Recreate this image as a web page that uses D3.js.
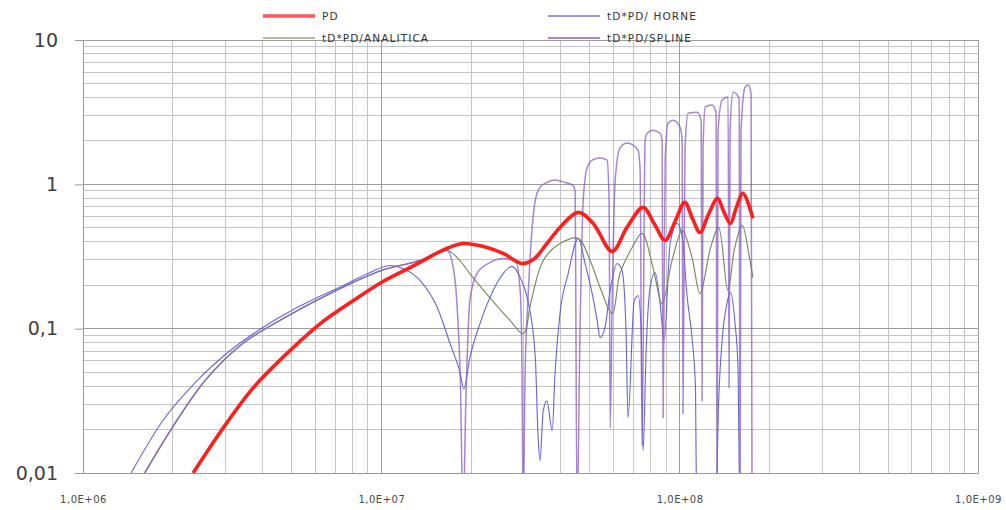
<!DOCTYPE html>
<html>
<head>
<meta charset="utf-8">
<script src="https://cdn.jsdelivr.net/npm/d3@7"></script>
<style>
  body { margin: 0; background: #fff; }
  svg { display: block; }
</style>
</head>
<body>
<svg id="chart" width="1006" height="510"></svg>
<script>
// Axis ticks and labels
const xTickValues = [1e6, 1e7, 1e8, 1e9];
const xTickLabels = ["1,0E+06", "1,0E+07", "1,0E+08", "1,0E+09"];
const yTickValues = [0.01, 0.1, 1, 10];
const yTickLabels = ["0,01", "0,1", "1", "10"];

const seriesNames = ["PD", "tD*PD/ HORNE", "tD*PD/ANALITICA", "tD*PD/SPLINE"];

// PD
const pdTime = [2.34e6, 2.95e6, 3.72e6, 5.06e6, 6.23e6, 8.04e6, 1.00e7, 1.28e7, 1.61e7, 1.88e7,
  2.26e7, 2.56e7, 2.96e7, 3.23e7, 3.59e7, 3.97e7, 4.57e7, 5.13e7, 5.94e7, 6.66e7,
  7.54e7, 8.21e7, 8.94e7, 9.65e7, 1.04e8, 1.10e8, 1.17e8, 1.245e8, 1.34e8, 1.40e8,
  1.48e8, 1.545e8, 1.63e8, 1.76e8];
const pdValue = [0.0100, 0.0205, 0.0389, 0.0738, 0.108, 0.156, 0.209, 0.272, 0.350, 0.389,
  0.365, 0.332, 0.283, 0.301, 0.389, 0.503, 0.639, 0.536, 0.343, 0.503,
  0.692, 0.536, 0.409, 0.553, 0.750, 0.590, 0.464, 0.610, 0.800, 0.660,
  0.536, 0.681, 0.866, 0.581];

// tD*PD/ HORNE
const horneTime = [1.45e6, 1.85e6, 2.41e6, 3.11e6, 4.01e6, 5.22e6, 7.67e6, 9.17e6, 1.07e7, 1.18e7,
  1.35e7, 1.54e7, 1.70e7, 1.84e7, 1.89e7, 1.98e7, 2.14e7, 2.37e7, 2.56e7, 2.74e7,
  2.92e7, 3.10e7, 3.28e7, 3.35e7, 3.40e7, 3.49e7, 3.59e7, 3.74e7, 3.82e7, 3.97e7,
  4.23e7, 4.57e7, 4.82e7, 5.09e7, 5.29e7, 5.41e7, 5.62e7, 5.85e7, 6.17e7, 6.41e7,
  6.61e7, 6.71e7, 7.04e7, 7.26e7, 7.43e7, 7.54e7, 7.72e7, 7.96e7, 8.27e7, 8.60e7,
  8.87e7, 9.29e7, 9.80e7, 1.02e8, 1.06e8, 1.10e8, 1.13e8, 1.14e8, 1.24e8, 1.32e8,
  1.35e8, 1.39e8, 1.44e8, 1.48e8, 1.53e8, 1.57e8, 1.59e8];
const horneValue = [0.0100, 0.0230, 0.0435, 0.0703, 0.102, 0.140, 0.205, 0.245, 0.274, 0.261,
  0.215, 0.140, 0.0787, 0.0487, 0.0383, 0.0629, 0.108, 0.184, 0.241, 0.270,
  0.226, 0.156, 0.0649, 0.0187, 0.0121, 0.0270, 0.0316, 0.0196, 0.0487, 0.127,
  0.241, 0.422, 0.283, 0.175, 0.114, 0.0866, 0.102, 0.184, 0.283, 0.253,
  0.0968, 0.0241, 0.156, 0.169, 0.0968, 0.0142, 0.0703, 0.193, 0.245, 0.149,
  0.0825, 0.389, 0.536, 0.429, 0.164, 0.0866, 0.0389, 0.005, 0.003, 0.005,
  0.0301, 0.0866, 0.149, 0.178, 0.114, 0.0511, 0.005];

// tD*PD/ANALITICA
const analiticaTime = [1.61e6, 1.96e6, 2.56e6, 3.36e6, 4.57e6, 6.73e6, 1.00e7, 1.35e7, 1.66e7, 1.81e7,
  1.98e7, 2.31e7, 2.70e7, 2.99e7, 3.18e7, 3.49e7, 3.97e7, 4.57e7, 5.01e7, 5.41e7,
  5.94e7, 6.31e7, 6.93e7, 7.48e7, 8.14e7, 8.73e7, 9.43e7, 1.02e8, 1.10e8, 1.17e8,
  1.27e8, 1.35e8, 1.45e8, 1.53e8, 1.62e8, 1.72e8, 1.76e8];
const analiticaValue = [0.0100, 0.0196, 0.0435, 0.0762, 0.114, 0.175, 0.253, 0.297, 0.348, 0.306,
  0.241, 0.164, 0.114, 0.0923, 0.156, 0.297, 0.389, 0.422, 0.297, 0.193,
  0.127, 0.241, 0.365, 0.457, 0.265, 0.149, 0.297, 0.480, 0.311, 0.175,
  0.365, 0.503, 0.184, 0.365, 0.519, 0.297, 0.226];

// tD*PD/SPLINE
const splineTime = [1.61e6, 1.96e6, 2.56e6, 3.36e6, 4.57e6, 6.73e6, 1.00e7, 1.35e7, 1.66e7, 1.73e7,
  1.79e7, 1.84e7, 1.88e7, 1.92e7, 1.98e7, 2.09e7, 2.31e7, 2.56e7, 2.81e7, 2.92e7,
  2.96e7, 2.99e7, 3.03e7, 3.10e7, 3.18e7, 3.28e7, 3.40e7, 3.59e7, 3.82e7, 4.13e7,
  4.39e7, 4.46e7, 4.53e7, 4.64e7, 4.75e7, 4.89e7, 5.09e7, 5.41e7, 5.71e7, 5.80e7,
  5.85e7, 5.94e7, 6.08e7, 6.31e7, 6.66e7, 6.98e7, 7.26e7, 7.37e7, 7.48e7, 7.66e7,
  7.78e7, 8.14e7, 8.60e7, 8.73e7, 8.80e7, 8.94e7, 9.14e7, 9.50e7, 1.003e8, 1.019e8,
  1.026e8, 1.042e8, 1.067e8, 1.144e8, 1.180e8, 1.189e8, 1.198e8, 1.217e8, 1.284e8, 1.324e8,
  1.335e8, 1.345e8, 1.387e8, 1.453e8, 1.464e8, 1.476e8, 1.510e8, 1.582e8, 1.594e8, 1.606e8,
  1.657e8, 1.696e8, 1.735e8, 1.749e8];
const splineValue = [0.0100, 0.0196, 0.0435, 0.0762, 0.114, 0.175, 0.253, 0.297, 0.348, 0.287,
  0.156, 0.0435, 0.005, 0.0316, 0.156, 0.241, 0.287, 0.306, 0.301, 0.184,
  0.060, 0.005, 0.0435, 0.156, 0.409, 0.774, 0.953, 1.03, 1.07, 1.03,
  0.984, 0.909, 0.005, 0.114, 0.774, 1.29, 1.47, 1.52, 1.47, 0.774,
  0.0205, 0.156, 1.07, 1.78, 1.93, 1.87, 1.72, 1.25, 0.0154, 2.02,
  2.26, 2.37, 2.26, 2.02, 0.0241, 1.47, 2.65, 2.78, 2.49, 2.02,
  0.0257, 1.72, 3.11, 3.16, 2.78, 0.0316, 1.72, 3.43, 3.54, 3.16,
  0.005, 2.37, 3.83, 4.02, 0.0389, 2.37, 4.35, 3.96, 0.005, 2.37,
  4.72, 4.87, 4.28, 0.005];

const svg = d3.select("#chart");
const plot = { left: 83, right: 978, top: 40, bottom: 473 };

const x = d3.scaleLog().domain([1e6, 1e9]).range([plot.left, plot.right]);
const y = d3.scaleLog().domain([0.01, 10]).range([plot.bottom, plot.top]);

const isDecade = d => Math.abs(Math.log10(d) - Math.round(Math.log10(d))) < 1e-9;

// Log grid: minor lines first, decade lines over them
const grid = svg.append("g").attr("shape-rendering", "crispEdges");
const xGrid = x.ticks();
const yGrid = y.ticks();
[false, true].forEach(major => {
  grid.selectAll(null).data(xGrid.filter(d => isDecade(d) === major)).enter().append("line")
    .attr("x1", d => x(d)).attr("x2", d => x(d))
    .attr("y1", plot.top).attr("y2", plot.bottom)
    .attr("stroke", major ? "#9c9c9c" : "#c4c4c4").attr("stroke-width", 1);
  grid.selectAll(null).data(yGrid.filter(d => isDecade(d) === major)).enter().append("line")
    .attr("x1", plot.left).attr("x2", plot.right)
    .attr("y1", d => y(d)).attr("y2", d => y(d))
    .attr("stroke", major ? "#9c9c9c" : "#c4c4c4").attr("stroke-width", 1);
});

// Axes
const yAxis = svg.append("g")
  .attr("transform", `translate(${plot.left},0)`)
  .call(d3.axisLeft(y).tickValues(yTickValues)
    .tickFormat((d, i) => yTickLabels[i]).tickSize(8).tickPadding(17));
yAxis.select(".domain").attr("stroke", "#999");
yAxis.selectAll(".tick line").attr("stroke", "#999");
yAxis.selectAll("text")
  .attr("fill", "#404040")
  .style("font-family", "'DejaVu Sans', sans-serif")
  .style("font-size", "19px");

const xAxis = svg.append("g")
  .attr("transform", `translate(0,${plot.bottom})`)
  .call(d3.axisBottom(x).tickValues(xTickValues)
    .tickFormat((d, i) => xTickLabels[i]).tickSize(0).tickPadding(23));
xAxis.select(".domain").attr("stroke", "#999");
xAxis.selectAll("text")
  .attr("fill", "#4a4a4a")
  .style("font-family", "'DejaVu Sans', sans-serif")
  .style("font-size", "10px")
  .style("letter-spacing", "0.5px");

// Series
svg.append("clipPath").attr("id", "plot-clip")
  .append("rect")
  .attr("x", plot.left).attr("y", plot.top)
  .attr("width", plot.right - plot.left).attr("height", plot.bottom - plot.top);

const pairs = (ts, vs) => ts.map((t, i) => ({ t, v: vs[i] }));

const series = [
  { name: seriesNames[1], data: pairs(horneTime, horneValue), color: "#4a4ad8", width: 1.1, opacity: 0.85, curve: d3.curveMonotoneX },
  { name: seriesNames[2], data: pairs(analiticaTime, analiticaValue), color: "#76865a", width: 1.2, opacity: 0.95, curve: d3.curveCatmullRom.alpha(0.5) },
  { name: seriesNames[3], data: pairs(splineTime, splineValue), color: "#8a5cc0", width: 1.5, opacity: 0.75, curve: d3.curveMonotoneX },
  { name: seriesNames[0], data: pairs(pdTime, pdValue), color: "#ff1e1e", width: 3.6, opacity: 1, curve: d3.curveCatmullRom.alpha(0.5) }
];

const lines = svg.append("g").attr("clip-path", "url(#plot-clip)");
series.forEach(s => {
  lines.append("path")
    .datum(s.data)
    .attr("fill", "none")
    .attr("stroke", s.color)
    .attr("stroke-width", s.width)
    .attr("stroke-opacity", s.opacity)
    .attr("stroke-linejoin", "round")
    .attr("d", d3.line().curve(s.curve).x(d => x(d.t)).y(d => y(d.v)));
});

// Legend: two columns, two rows
const legendItems = [
  { name: seriesNames[0], color: "#ff1e1e", width: 3.6, col: 0, row: 0 },
  { name: seriesNames[1], color: "#4a4ad8", width: 1.5, col: 1, row: 0 },
  { name: seriesNames[2], color: "#76865a", width: 1.5, col: 0, row: 1 },
  { name: seriesNames[3], color: "#8a5cc0", width: 1.8, col: 1, row: 1 }
];
const legend = svg.append("g");
const colX = [263, 548], rowY = [16, 38];
legendItems.forEach(it => {
  const lx = colX[it.col], ly = rowY[it.row];
  legend.append("line")
    .attr("x1", lx).attr("x2", lx + 52).attr("y1", ly).attr("y2", ly)
    .attr("stroke", it.color).attr("stroke-width", it.width)
    .attr("stroke-opacity", 0.75);
  legend.append("text")
    .attr("x", lx + 59).attr("y", ly).attr("dy", "0.35em")
    .attr("fill", "#333")
    .style("font-family", "'DejaVu Sans', sans-serif")
    .style("font-size", "10.5px")
    .style("letter-spacing", "1.1px")
    .text(it.name);
});
</script>
</body>
</html>
